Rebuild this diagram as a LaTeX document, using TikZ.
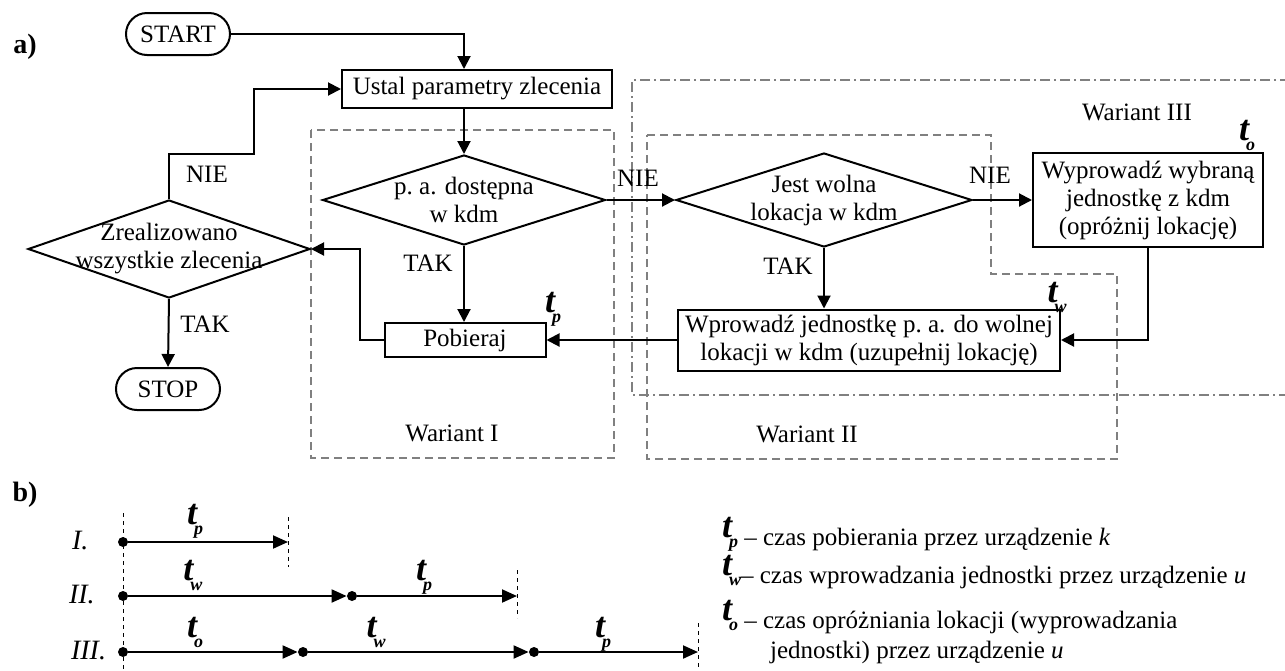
\documentclass[tikz,border=0pt]{standalone}
\usepackage{fontspec}
\setmainfont{Liberation Serif}
\usetikzlibrary{shapes.geometric,arrows.meta}

\newcommand{\tz}[1]{\raisebox{4pt}{\fontsize{18}{18}\selectfont\bfseries\itshape t}\kern-1.5pt\raisebox{-1pt}{\fontsize{9}{9}\selectfont\bfseries\itshape #1}}

\begin{document}
\begin{tikzpicture}[x=0.5pt, y=-0.5pt,
  every node/.style = {font=\fontsize{12.5}{14}\selectfont},
  box/.style = {shape=rectangle, draw, line width=1pt, align=center, inner sep=0pt},
  term/.style = {box, rounded corners=10.5pt, minimum width=52pt, minimum height=21pt},
  dia/.style = {shape=diamond, draw, line width=1pt, inner sep=0pt},
  arr/.style = {line width=1pt, -{Triangle[length=6.5pt,width=6.5pt]}},
  war/.style = {gray, line width=0.75pt, dash pattern=on 4pt off 2.5pt},
  wartri/.style = {gray, line width=0.75pt, dash pattern=on 5pt off 2pt on 1pt off 2pt},
  dot/.style = {circle, fill, inner sep=0pt, minimum size=5pt},
  tarr/.style = {line width=1pt, -{Triangle[length=7.5pt,width=6.5pt]}},
  tick/.style = {line width=0.5pt, dash pattern=on 2pt off 2pt},
  part/.style = {font=\fontsize{14}{14}\selectfont\bfseries},
  row/.style = {anchor=base west, font=\fontsize{14}{14}\selectfont\itshape}]
  \useasboundingbox (0,0) rectangle (1285,670);

  \draw[war] (311,130) rectangle (614,458);
  \draw[war] (647,135) -- (991,135) -- (991,274) -- (1117,274) -- (1117,459) -- (647,459) -- cycle;
  \draw[wartri] (1290,80) -- (632,80) -- (632,395) -- (1290,395);
  \node (w1) at (452,433) {Wariant I};
  \node (w2) at (807,434) {Wariant II};
  \node (w3) at (1137,112) {Wariant III};

  \node[part] (a) at (25,47) {a)};
  \node[term] (start) at (178,34) {START};
  \node[box, minimum width=135pt, minimum height=19pt] (ustal) at (477,89) {Ustal parametry zlecenia};
  \node[dia, minimum width=141pt, minimum height=49pt,
    label={[align=center]center:Zrealizowano\\wszystkie zlecenia}] (d0) at (169,249) {};
  \node[dia, minimum width=141.5pt, minimum height=45pt,
    label={[align=center]center:p.~a. dostępna\\w kdm}] (d1) at (464,200) {};
  \node[dia, minimum width=148pt, minimum height=47pt,
    label={[align=center]center:Jest wolna\\lokacja w kdm}] (d2) at (824,200) {};
  \node[box, minimum width=115pt, minimum height=47pt] (wyp) at (1148,200) {Wyprowadź wybraną\\jednostkę z kdm\\(opróżnij lokację)};
  \node[box, minimum width=191pt, minimum height=30.5pt] (wpr) at (869,340) {Wprowadź jednostkę p.~a. do wolnej\\lokacji w kdm (uzupełnij lokację)};
  \node[box, minimum width=80.5pt, minimum height=17pt] (pob) at (465,340) {Pobieraj};
  \node[term] (stop) at (168,389) {STOP};

  \coordinate (k1) at (254,154);
  \coordinate (k2) at (360,340);
  \draw[arr] (start.east) -| (d1.north |- ustal.north);
  \draw[arr] (d1.north |- ustal.south) -- (d1.north);
  \draw[arr] (d1.east) -- (d2.west);
  \draw[arr] (d2.east) -- (wyp.west);
  \draw[arr] (d2.south) -- (d2.south |- wpr.north);
  \draw[arr] (wyp.south) |- (wpr.east);
  \draw[arr] (wpr.west) -- (pob.east);
  \draw[arr] (d1.south) -- (d1.south |- pob.north);
  \draw[arr] (pob.west) -- (k2) |- (d0.east);
  \draw[arr] (d0.south) -- (stop.north);
  \draw[arr] (d0.north) |- (k1) |- (ustal.west);

  \node (nie0) at (207,174) {NIE};
  \node (tak0) at (205,324) {TAK};
  \node (tak1) at (428,263) {TAK};
  \node (nie1) at (638,178) {NIE};
  \node (tak2) at (788,266) {TAK};
  \node (nie2) at (990,175) {NIE};
  \node[anchor=base] (tp) at (553,320) {\tz{p}};
  \node[anchor=base] (tw) at (1057,310) {\tz{w}};
  \node[anchor=base] (to) at (1247,148) {\tz{o}};

  \node[part] (b) at (25,495) {b)};
  \node[row] (r1) at (65,549) {I.};
  \node[row] (r2) at (62,603) {II.};
  \node[row] (r3) at (64,659) {III.};

  \draw[tick] (123,513) -- (123,670);
  \draw[tick] (288,517) -- (288,567);
  \draw[tick] (517,570) -- (517,618);
  \draw[tick] (698,623) -- (698,670);

  \node[dot] (i0) at (123,542) {};
  \coordinate (i1) at (288,542);
  \draw[tarr] (i0) -- (i1);
  \node[dot] (ii0) at (123,596) {};
  \node[dot] (ii1) at (352,596) {};
  \coordinate (ii2) at (517,596);
  \draw[tarr] (ii0) -- (ii1);
  \draw[tarr] (ii1) -- (ii2);
  \node[dot] (iii0) at (123,652) {};
  \node[dot] (iii1) at (303,652) {};
  \node[dot] (iii2) at (534,652) {};
  \coordinate (iii3) at (698,652);
  \draw[tarr] (iii0) -- (iii1);
  \draw[tarr] (iii1) -- (iii2);
  \draw[tarr] (iii2) -- (iii3);

  \node[anchor=base] (lip) at (195,532) {\tz{p}};
  \node[anchor=base] (liiw) at (193,588) {\tz{w}};
  \node[anchor=base] (liip) at (424,588) {\tz{p}};
  \node[anchor=base] (liiio) at (195,645) {\tz{o}};
  \node[anchor=base] (liiiw) at (376,645) {\tz{w}};
  \node[anchor=base] (liiip) at (603,645) {\tz{p}};

  \node[anchor=base west] (lgp) at (715,545) {\tz{p} – czas pobierania przez urządzenie \textit{k}};
  \node[anchor=base west] (lgw) at (715,583) {\tz{w}– czas wprowadzania jednostki przez urządzenie \textit{u}};
  \node[anchor=base west] (lgo) at (715,628) {\tz{o} – czas opróżniania lokacji (wyprowadzania};
  \node[anchor=base west] (lgo2) at (763,658) {jednostki) przez urządzenie \textit{u}};
\end{tikzpicture}
\end{document}
